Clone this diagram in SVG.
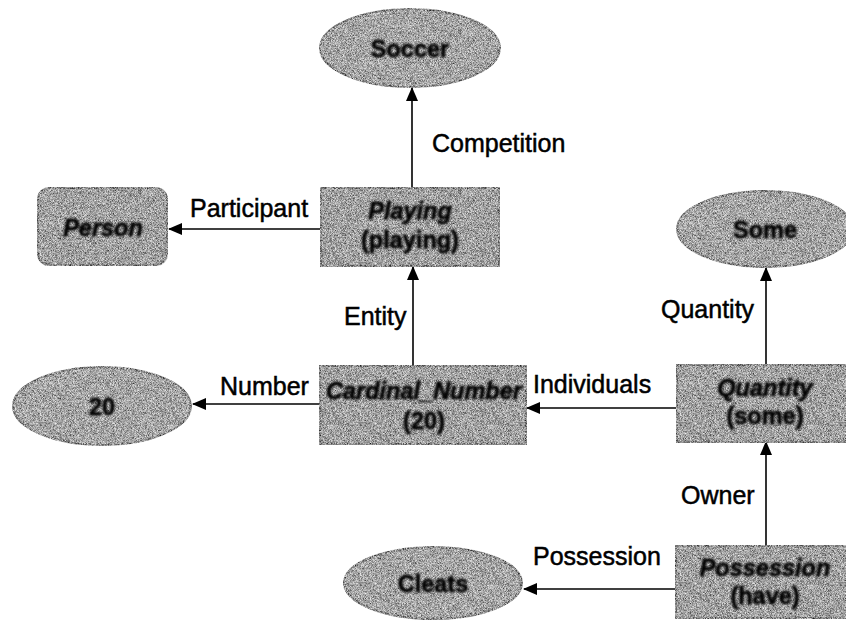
<svg xmlns="http://www.w3.org/2000/svg" width="846" height="621" viewBox="0 0 846 621">
  <defs>
    <style>
      .bg { fill: #ffffff; }
      .box { fill: #808080; stroke: #111; stroke-width: 2; filter: url(#grain); }
      .oval { fill: #8a8a8a; stroke: #111; stroke-width: 2; filter: url(#grain); }
      .ntext { font-family: "Liberation Sans", Arial, sans-serif; font-size: 23.5px; font-weight: bold; fill: #000; stroke: #000; stroke-width: 0.8; text-anchor: middle; filter: url(#soft); }
      .it { font-style: italic; }
      .edge { stroke: #000; stroke-width: 1.6; fill: none; marker-end: url(#head); }
      .label { font-family: "Liberation Sans", Arial, sans-serif; font-size: 25px; fill: #000; stroke: #000; stroke-width: 0.5; }
    </style>
    <!-- fine print grain for node fills -->
    <filter id="grain" x="-2%" y="-2%" width="104%" height="104%">
      <feTurbulence type="fractalNoise" baseFrequency="1.6" numOctaves="1" seed="7" result="n"/>
      <feColorMatrix in="n" type="matrix" values="0 0 0 1.3 -0.15  0 0 0 1.3 -0.15  0 0 0 1.3 -0.15  0 0 0 0 1" result="g"/>
      <feBlend in="SourceGraphic" in2="g" mode="soft-light" result="b"/>
      <feComposite in="b" in2="SourceAlpha" operator="in"/>
    </filter>
    <filter id="soft" x="-5%" y="-20%" width="110%" height="140%">
      <feGaussianBlur stdDeviation="0.8"/>
    </filter>
    <marker id="head" viewBox="0 0 14 12" refX="13" refY="6" markerWidth="14" markerHeight="12" markerUnits="userSpaceOnUse" orient="auto">
      <path d="M0,0 L14,6 L0,12 Z" fill="#000"/>
    </marker>
  </defs>

  <rect class="bg" x="0" y="0" width="846" height="621"/>

  <!-- connectors -->
  <g id="connectors">
    <line class="edge" x1="412" y1="188" x2="412" y2="88"/>
    <line class="edge" x1="321" y1="229" x2="169" y2="229"/>
    <line class="edge" x1="413" y1="366" x2="413" y2="267"/>
    <line class="edge" x1="320" y1="404" x2="193" y2="404"/>
    <line class="edge" x1="677" y1="408" x2="527" y2="408"/>
    <line class="edge" x1="766" y1="365" x2="766" y2="268"/>
    <line class="edge" x1="766" y1="546" x2="766" y2="442"/>
    <line class="edge" x1="676" y1="589" x2="524" y2="589"/>
  </g>

  <!-- connector labels -->
  <g id="labels">
    <text class="label" x="432" y="152">Competition</text>
    <text class="label" x="190" y="217">Participant</text>
    <text class="label" x="344" y="325">Entity</text>
    <text class="label" x="661" y="318">Quantity</text>
    <text class="label" x="220" y="395">Number</text>
    <text class="label" x="533" y="393">Individuals</text>
    <text class="label" x="681" y="504">Owner</text>
    <text class="label" x="533" y="565">Possession</text>
  </g>

  <g id="soccer">
    <ellipse class="oval" cx="410" cy="48" rx="90" ry="39"/>
    <text class="ntext" x="410" y="57">Soccer</text>
  </g>

  <g id="person">
    <rect class="box" x="38" y="188" width="129" height="77" rx="11"/>
    <text class="ntext it" x="103" y="236">Person</text>
  </g>

  <g id="playing">
    <rect class="box" x="321" y="188" width="178" height="78"/>
    <text class="ntext it" x="410" y="219">Playing</text>
    <text class="ntext" x="410" y="248">(playing)</text>
  </g>

  <g id="some">
    <ellipse class="oval" cx="765" cy="229" rx="88" ry="38"/>
    <text class="ntext" x="765" y="238">Some</text>
  </g>

  <g id="twenty">
    <ellipse class="oval" cx="102" cy="406" rx="89" ry="39"/>
    <text class="ntext" x="102" y="415">20</text>
  </g>

  <g id="cardinal-number">
    <rect class="box" x="320" y="366" width="206" height="78"/>
    <text class="ntext it" x="424" y="399">Cardinal_Number</text>
    <text class="ntext" x="424" y="429">(20)</text>
  </g>

  <g id="quantity">
    <rect class="box" x="677" y="365" width="176" height="77"/>
    <text class="ntext it" x="765" y="396">Quantity</text>
    <text class="ntext" x="765" y="424">(some)</text>
  </g>

  <g id="cleats">
    <ellipse class="oval" cx="433" cy="583" rx="89" ry="36"/>
    <text class="ntext" x="433" y="592">Cleats</text>
  </g>

  <g id="possession">
    <rect class="box" x="676" y="546" width="178" height="72"/>
    <text class="ntext it" x="765" y="576">Possession</text>
    <text class="ntext" x="765" y="604">(have)</text>
  </g>
</svg>
